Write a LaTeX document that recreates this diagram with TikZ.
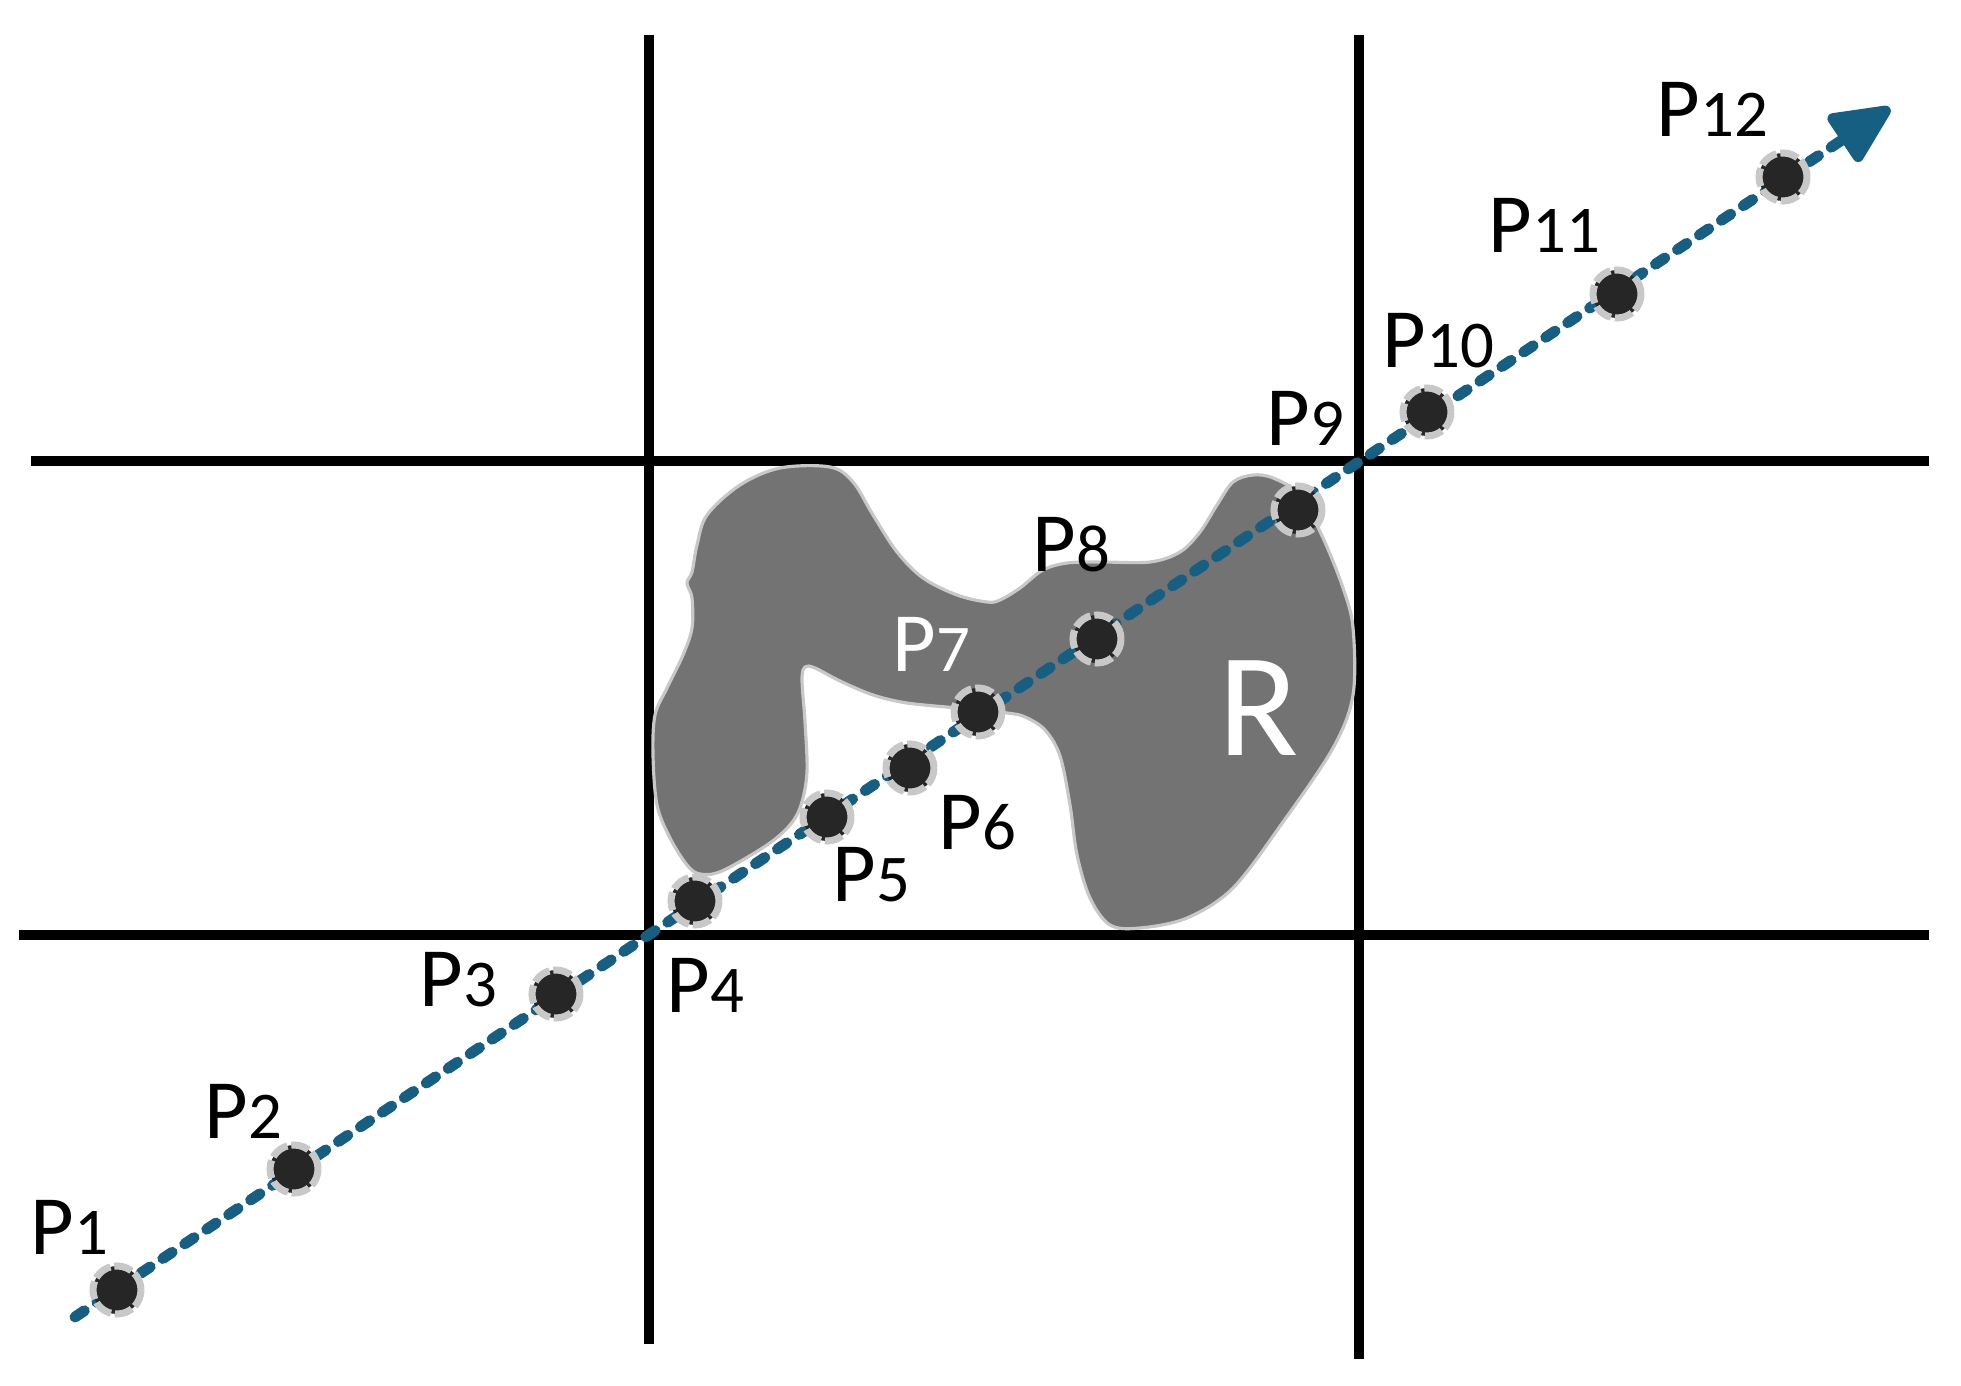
\documentclass[tikz,border=0pt]{standalone}
\usepackage{fontspec}
\setmainfont{Carlito}
\usetikzlibrary{arrows.meta}
\definecolor{trackblue}{HTML}{175F82}
\definecolor{dotdark}{HTML}{262626}
\definecolor{rimgray}{HTML}{C8C8C8}
\definecolor{regiongray}{HTML}{737373}
\newcommand\ptidx[1]{{\fontsize{19}{22}\selectfont #1}}
\begin{document}
\begin{tikzpicture}[x=0.01cm,y=-0.01cm,
  gridline/.style={line width=2.6pt,black},
  region/.style={fill=regiongray,draw=rimgray,line width=0.9pt},
  track/.style={trackblue,line width=3.1pt,line cap=round,dash pattern=on 3.2pt off 4.3pt,
    -{Triangle[length=19pt,width=17pt,round]}},
  sample/.style={circle,fill=dotdark,draw=rimgray,line width=2pt,dash pattern=on 5.2pt off 1.1pt,
    minimum size=0.48cm,inner sep=0pt},
  plabel/.style={anchor=base west,inner sep=0pt,font=\fontsize{24}{28}\selectfont}]
\useasboundingbox (0,0) rectangle (1961,1386);
\draw[gridline] (649,35) -- (649,1344);
\draw[gridline] (1359,35) -- (1359,1359);
\draw[gridline] (31,461) -- (1929,461);
\draw[gridline] (19,935) -- (1929,935);
\draw[region] plot[smooth cycle,tension=0.55] coordinates {
  (780,468) (740,485) (707,515) (697,545) (692,572) (687,583) (692,598) (692,628)
  (683,655) (667,688) (655,715) (653,755) (657,805) (670,838) (687,865) (700,874)
  (722,871) (767,845) (790,825) (801,805) (807,772) (805,722) (802,680) (805,667)
  (815,668) (840,681) (873,695) (907,703) (957,708) (1007,713) (1025,717) (1045,730)
  (1060,756) (1070,805) (1077,855) (1090,898) (1110,925) (1140,928) (1187,918)
  (1233,888) (1283,822) (1333,748) (1353,695) (1353,628) (1343,588) (1323,538)
  (1300,495) (1273,478) (1253,475) (1233,482) (1217,505) (1200,532) (1180,552)
  (1150,562) (1100,562) (1067,563) (1043,570) (1020,588) (1000,600) (987,602)
  (957,595) (923,578) (897,552) (873,515) (853,482) (830,467)};
\coordinate (start) at (75,1317);
\coordinate (tip) at (1890,108);
\draw[track] (start) -- (tip);
\foreach \n/\px/\py in {1/117/1290, 2/294/1169, 3/556/994, 4/695/901, 5/827/817, 6/910/768,
    7/978/712, 8/1097/639, 9/1298/510, 10/1427/412, 11/1617/294, 12/1783/177}
  \node[sample] (p\n) at (\px,\py) {};
\foreach \n/\px/\py in {1/30/1254, 2/204/1138, 3/419/1006, 4/666/1012, 5/832/902, 6/938/850,
    8/1032/572, 9/1266/446, 10/1382/368, 11/1488/253, 12/1656/137}
  \node[plabel] (l\n) at (\px,\py) {P\ptidx{\n}};
\node[plabel,white] (l7) at (892,672) {P\ptidx{7}};
\node[plabel,white,font=\fontsize{42}{48}\selectfont] (r) at (1218,755) {R};
\end{tikzpicture}
\end{document}
